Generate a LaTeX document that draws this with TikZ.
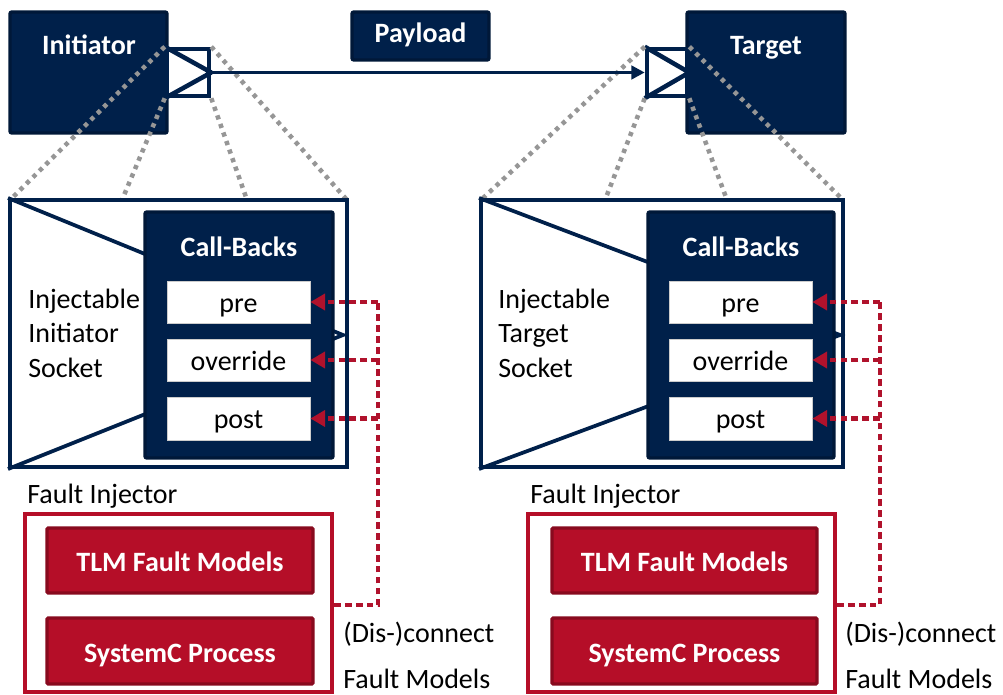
\documentclass[tikz,border=0pt]{standalone}
\usepackage{fontspec}
\setmainfont{Carlito}
\usetikzlibrary{fit,arrows.meta}

\definecolor{navy}{RGB}{0,32,74}
\definecolor{navyedge}{RGB}{0,24,56}
\definecolor{crimson}{RGB}{181,14,40}
\definecolor{crimsonedge}{RGB}{136,10,30}
\definecolor{linkred}{RGB}{176,18,44}
\definecolor{zoomgrey}{RGB}{150,150,150}

\tikzset{
  txt/.style={font=\fontsize{21}{25.5}\selectfont, inner sep=0pt},
  boldwhite/.style={txt, text=white, font=\fontsize{21}{25.5}\selectfont\bfseries},
  navybox/.style={draw=navyedge, fill=navy, line width=2.6pt, rounded corners=1.5pt, inner sep=0pt},
  socketbox/.style={draw=navy, fill=white, line width=3.4pt, inner sep=0pt},
  socketmark/.style={draw=navy, line width=3.4pt, line join=bevel},
  bigbox/.style={draw=navy, fill=white, line width=3pt, inner sep=0pt},
  bigmark/.style={draw=navy, line width=2.8pt},
  cbitem/.style={draw=gray!40, fill=white, line width=0.6pt, inner sep=0pt},
  fibox/.style={draw=crimson, fill=white, line width=3pt, inner sep=0pt},
  fmbox/.style={draw=crimsonedge, fill=crimson, line width=2.6pt, rounded corners=1pt, inner sep=0pt},
  zoomline/.style={draw=zoomgrey, line width=3.4pt, dash pattern=on 3.2pt off 3.6pt},
  linkline/.style={draw=linkred, line width=3.6pt, dash pattern=on 5pt off 3.2pt},
  linkarrow/.style={linkline, -{Triangle[length=11pt,width=12pt]}},
  payloadline/.style={draw=navy, line width=2.8pt, -{Triangle[length=10pt,width=10pt]}},
}

\begin{document}
\begin{tikzpicture}[x=0.75pt, y=-0.75pt]
\useasboundingbox (0,0) rectangle (1003,695);

% ---------- top row: initiator, payload, target ----------
\node[navybox, fit={(10,12) (167,133)}] (init) {};
\node[boldwhite, anchor=base] (initlbl) at (89,55) {Initiator};
\node[navybox, fit={(352,12) (489,60)}] (payload) {};
\node[boldwhite, anchor=base] (payloadlbl) at (420.5,43) {Payload};
\node[navybox, fit={(687,12) (845,133)}] (tgt) {};
\node[boldwhite, anchor=base] (tgtlbl) at (766,55) {Target};

% sockets
\node[socketbox, fit={(167,49) (209,96)}] (isock) {};
\draw[socketmark] (isock.north west) -- (isock.east) -- (isock.south west);
\node[socketbox, fit={(647,49) (687,96)}] (tsock) {};
\draw[socketmark] (tsock.north west) -- (tsock.east) -- (tsock.south west);

% zoom guides from the sockets to the detailed views
\coordinate (izA) at (122,200);
\coordinate (izB) at (247,200);
\coordinate (tzA) at (605,200);
\coordinate (tzB) at (727,200);
\coordinate (izL) at (10,200);
\coordinate (izR) at (347,200);
\coordinate (tzL) at (481,200);
\coordinate (tzR) at (843,200);
\draw[zoomline] (isock.north west) -- (izL);
\draw[zoomline] (isock.south west) -- (izA);
\draw[zoomline] (isock.south east) -- (izB);
\draw[zoomline] (isock.north east) -- (izR);
\draw[zoomline] (tsock.north west) -- (tzL);
\draw[zoomline] (tsock.south west) -- (tzA);
\draw[zoomline] (tsock.south east) -- (tzB);
\draw[zoomline] (tsock.north east) -- (tzR);

% payload transfer
\draw[payloadline] (isock.east) -- (tsock.west);

% ---------- injectable initiator socket ----------
\node[bigbox, fit={(10,200) (347,467)}] (ibig) {};
\coordinate (iapex) at (343,335);
\draw[bigmark] (ibig.north west) -- (iapex) -- (ibig.south west);
\node[navybox, fit={(145,212) (333,458)}] (icb) {};
\node[boldwhite, anchor=base] (icblbl) at (239,257) {Call-Backs};
\node[cbitem, fit={(167,281) (310,323)}] (ipre) {};
\node[txt, anchor=base] at (238.5,312) {pre};
\node[cbitem, fit={(167,339) (310,381)}] (iovr) {};
\node[txt, anchor=base] at (238.5,370) {override};
\node[cbitem, fit={(167,397) (310,440)}] (ipost) {};
\node[txt, anchor=base] at (238.5,428) {post};
\node[txt, anchor=base west] (ilbl1) at (28,309) {Injectable};
\node[txt, anchor=base west] (ilbl2) at (28,343) {Initiator};
\node[txt, anchor=base west] (ilbl3) at (28,377) {Socket};

% ---------- injectable target socket ----------
\node[bigbox, fit={(481,200) (843,467)}] (tbig) {};
\coordinate (tapex) at (840,335);
\draw[bigmark] (tbig.north west) -- (tapex) -- (tbig.south west);
\node[navybox, fit={(648,212) (834,458)}] (tcb) {};
\node[boldwhite, anchor=base] (tcblbl) at (741,257) {Call-Backs};
\node[cbitem, fit={(669,281) (812,323)}] (tpre) {};
\node[txt, anchor=base] at (740.5,312) {pre};
\node[cbitem, fit={(669,339) (812,381)}] (tovr) {};
\node[txt, anchor=base] at (740.5,370) {override};
\node[cbitem, fit={(669,397) (812,440)}] (tpost) {};
\node[txt, anchor=base] at (740.5,428) {post};
\node[txt, anchor=base west] (tlbl1) at (498,309) {Injectable};
\node[txt, anchor=base west] (tlbl2) at (498,343) {Target};
\node[txt, anchor=base west] (tlbl3) at (498,377) {Socket};

% ---------- fault injectors ----------
\node[txt, anchor=base west] (ifilbl) at (27,503) {Fault Injector};
\node[fibox, fit={(25,514) (332,692)}] (ifi) {};
\node[fmbox, fit={(47,528) (313,593)}] (itlm) {};
\node[boldwhite, anchor=base] at (180,571) {TLM Fault Models};
\node[fmbox, fit={(47,618) (313,684)}] (isc) {};
\node[boldwhite, anchor=base] at (180,662) {SystemC Process};
\node[txt, anchor=base west] (iconn1) at (343,642) {(Dis-)connect};
\node[txt, anchor=base west] (iconn2) at (343,688) {Fault Models};

\node[txt, anchor=base west] (tfilbl) at (530,503) {Fault Injector};
\node[fibox, fit={(528,514) (835,692)}] (tfi) {};
\node[fmbox, fit={(552,528) (817,593)}] (ttlm) {};
\node[boldwhite, anchor=base] at (684.5,571) {TLM Fault Models};
\node[fmbox, fit={(552,618) (817,684)}] (tsc) {};
\node[boldwhite, anchor=base] at (684.5,662) {SystemC Process};
\node[txt, anchor=base west] (tconn1) at (845,642) {(Dis-)connect};
\node[txt, anchor=base west] (tconn2) at (845,688) {Fault Models};

% ---------- fault model links to the call-backs ----------
\coordinate (ijoin) at (378,302);
\draw[linkline] ([yshift=-1.5pt]ifi.east) -| (ijoin);
\draw[linkarrow] (ijoin) -- (ipre.east);
\draw[linkarrow] (ijoin |- iovr.east) -- (iovr.east);
\draw[linkarrow] (ijoin |- ipost.east) -- (ipost.east);

\coordinate (tjoin) at (880,302);
\draw[linkline] ([yshift=-1.5pt]tfi.east) -| (tjoin);
\draw[linkarrow] (tjoin) -- (tpre.east);
\draw[linkarrow] (tjoin |- tovr.east) -- (tovr.east);
\draw[linkarrow] (tjoin |- tpost.east) -- (tpost.east);
\end{tikzpicture}
\end{document}
